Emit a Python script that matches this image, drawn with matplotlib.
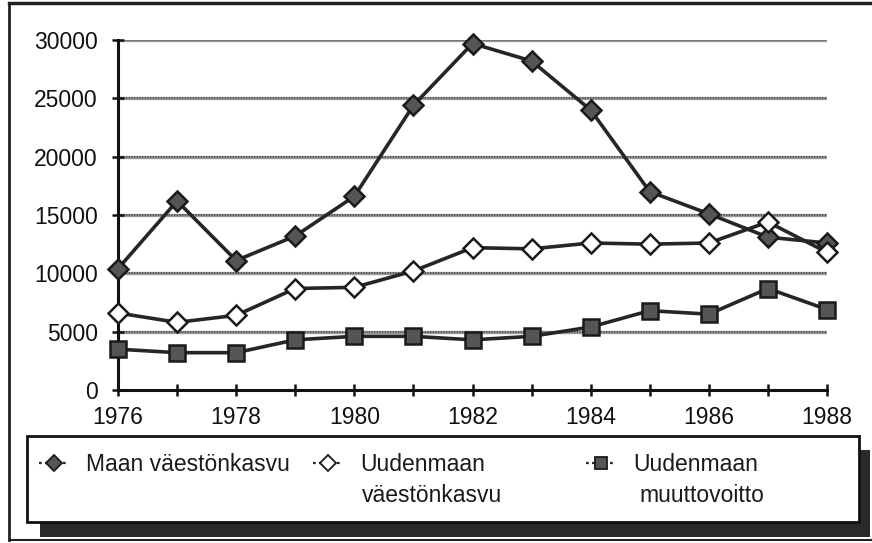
import matplotlib
matplotlib.use('Agg')
import matplotlib.pyplot as plt
from matplotlib.lines import Line2D
from matplotlib.patches import Rectangle

plt.rcParams['font.family'] = ['Liberation Sans', 'DejaVu Sans']

####################################################################### data

years = list(range(1976, 1989))
maan_kasvu = [10400, 16200, 11100, 13200, 16600, 24400, 29700, 28200, 24000, 17000, 15100, 13100, 12600]
uusimaa_kasvu = [6600, 5800, 6400, 8700, 8800, 10200, 12200, 12100, 12600, 12500, 12600, 14400, 11800]
uusimaa_muutto = [3500, 3200, 3200, 4300, 4600, 4600, 4300, 4600, 5400, 6800, 6500, 8700, 6900]

# first line goes in the legend, second line is set below it
labels = [('Maan väestönkasvu', ''), ('Uudenmaan', 'väestönkasvu'), ('Uudenmaan', 'muuttovoitto')]
y_ticks = [0, 5000, 10000, 15000, 20000, 25000, 30000]
x_labels = [1976, 1978, 1980, 1982, 1984, 1986, 1988]

###################################################################### figure

W, H = 872, 543
fig = plt.figure(figsize=(W / 100, H / 100), dpi=100)

def fx(px):
    return px / W

def fy(py):
    return 1 - py / H

ax = fig.add_axes([fx(118), fy(390), fx(827) - fx(118), fy(40) - fy(390)])

LINE = '#262626'
styles = [
    dict(marker='D', markersize=10, markerfacecolor='#555555', markeredgecolor='#1a1a1a'),
    dict(marker='D', markersize=10, markerfacecolor='white', markeredgecolor='#1a1a1a'),
    dict(marker='s', markersize=11, markerfacecolor='#555555', markeredgecolor='#1a1a1a'),
]

for series, st in zip([maan_kasvu, uusimaa_kasvu, uusimaa_muutto], styles):
    ax.plot(years, series, color=LINE, lw=2.6, markeredgewidth=1.8,
            clip_on=False, zorder=3, **st)

# textured grey gridlines
for v in y_ticks[1:]:
    ax.axhline(v, color='#9a9a9a', lw=2.4, zorder=1)
    ax.axhline(v, color='#4a4a4a', lw=1.2, ls=(0, (0.8, 0.8)), zorder=1)

ax.set_xlim(1976, 1988)
ax.set_ylim(0, 30000)
ax.set_yticks(y_ticks)
ax.set_xticks(x_labels)
ax.set_xticks(years, minor=True)
ax.tick_params(axis='both', which='both', direction='inout', width=1.8, colors='#111111')
ax.tick_params(axis='x', which='both', length=9, pad=7, labelsize=16.5)
ax.tick_params(axis='y', length=9, pad=10, labelsize=16.5)
for s in ['top', 'right']:
    ax.spines[s].set_visible(False)
for s in ['left', 'bottom']:
    ax.spines[s].set_linewidth(2.2)
    ax.spines[s].set_color('#111111')

##################################################################### legend

# outer frame
fig.add_artist(Line2D([fx(9), fx(9)], [fy(3), fy(540)], color='#222222', lw=2))
fig.add_artist(Line2D([fx(9), 1], [fy(3), fy(3)], color='#222222', lw=2.5))
fig.add_artist(Line2D([fx(9), 1], [fy(540), fy(540)], color='#222222', lw=1.5))

# legend box with drop shadow
fig.add_artist(Rectangle((fx(40), fy(537)), fx(870) - fx(40), fy(450) - fy(537),
                         transform=fig.transFigure, facecolor='#2a2a2a', edgecolor='none'))
fig.add_artist(Rectangle((fx(27), fy(522)), fx(859) - fx(27), fy(436) - fy(522),
                         transform=fig.transFigure, facecolor='white', edgecolor='#111111', lw=2))

handles = [Line2D([], [], color=LINE, lw=1.6, ls=(0, (1.2, 1.5)), markeredgewidth=1.3,
                  **dict(st, markersize=st['markersize'] - 2)) for st in styles]
positions = [39, 313, 586]
indent = [0, 2, 6]
legends = []
for h, (first, _), px in zip(handles, labels, positions):
    leg = fig.legend([h], [first], loc='upper left', bbox_to_anchor=(fx(px), fy(453)),
                     frameon=False, fontsize=16.5, handlelength=1.3, handletextpad=0.75,
                     borderpad=0, borderaxespad=0)
    leg.get_texts()[0].set_color('#1a1a1a')
    legends.append(leg)

fig.canvas.draw()
inv = fig.transFigure.inverted()
for leg, (_, second), dx in zip(legends, labels, indent):
    if not second:
        continue
    bb = leg.get_texts()[0].get_window_extent().transformed(inv)
    fig.text(bb.x0 + dx / W, bb.y0 - 31 / H, second, fontsize=16.5, color='#1a1a1a',
             ha='left', va='bottom')

fig.savefig('out.png', dpi=100)
